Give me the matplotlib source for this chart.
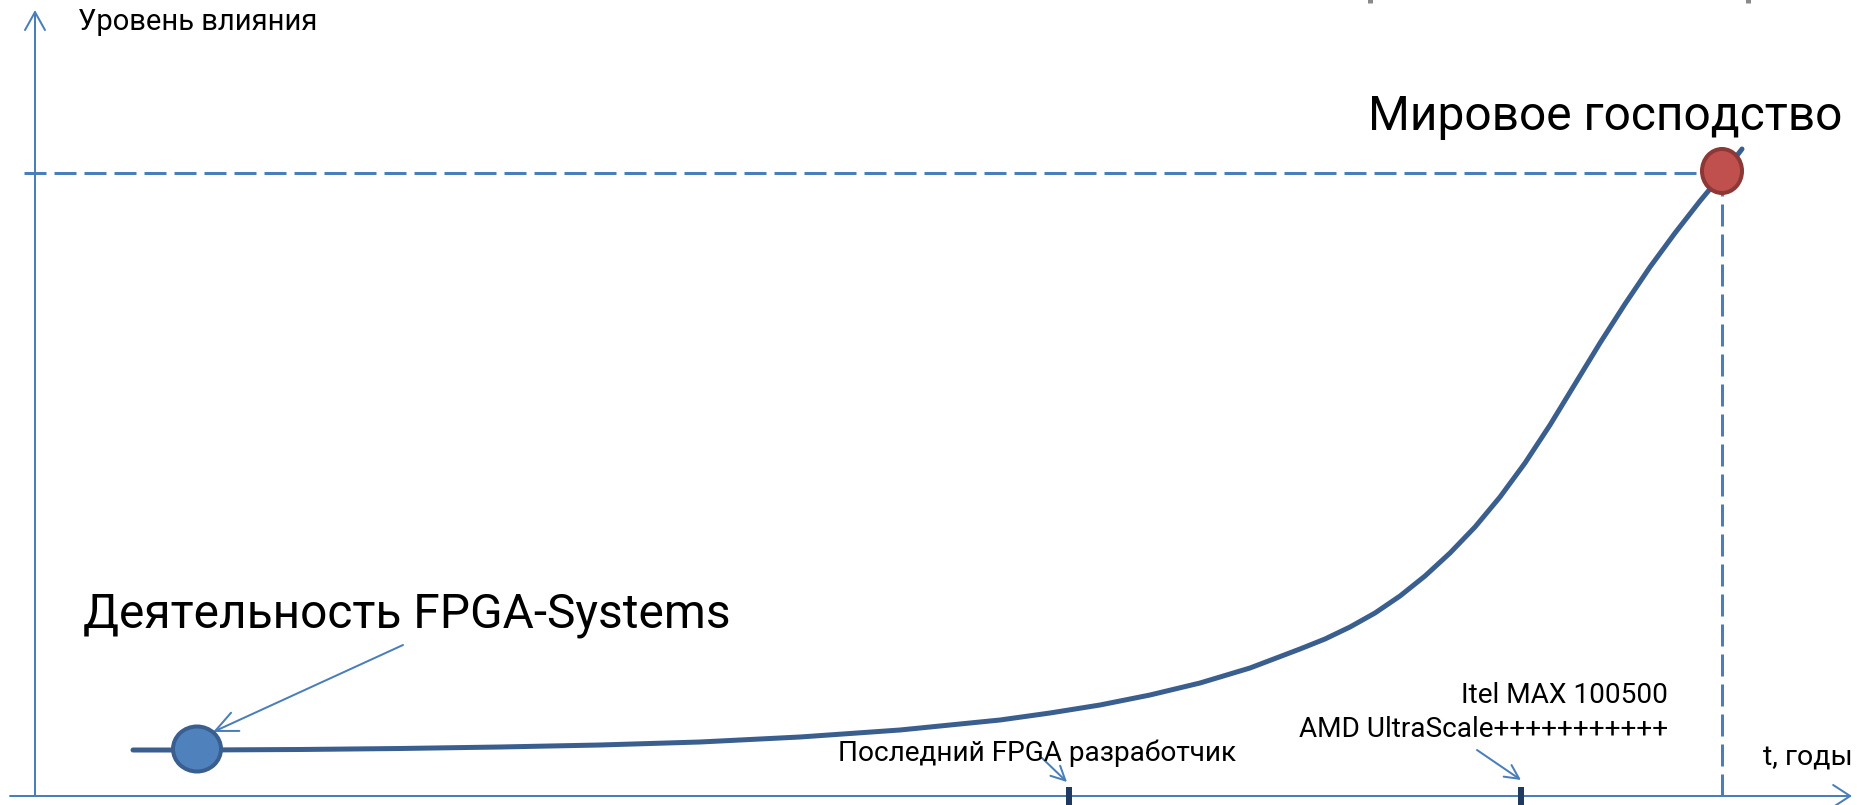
import matplotlib
matplotlib.use("Agg")
import matplotlib.pyplot as plt
from matplotlib.patches import Ellipse, FancyArrowPatch

plt.rcParams['font.family'] = ['Roboto', 'DejaVu Sans']

# кривая влияния (t - условные годы, level - уровень влияния)
curve_t = [98, 165, 265, 365, 465, 565, 665, 765, 865, 965, 1015, 1065, 1115,
           1165, 1215, 1265, 1290, 1315, 1340, 1365, 1390, 1415, 1440, 1465,
           1490, 1515, 1540, 1565, 1590, 1615, 1640, 1665, 1690, 1707]
curve_level = [46, 46, 46.5, 47.5, 49, 51, 54, 59, 66, 76, 83, 91, 101,
               113, 128, 147, 157, 169, 183, 200, 220, 243, 269, 299,
               333, 371, 412, 453, 492, 529, 563, 595, 625, 647]

start_t, start_level = 162, 47          # Деятельность FPGA-Systems
goal_t, goal_level = 1687, 625          # Мировое господство
milestones_t = [1034, 1486]             # отметки на оси времени

y_label = "Уровень влияния"
x_label = "t, годы"
start_label = "Деятельность FPGA-Systems"
goal_label = "Мировое господство"
last_dev_label = "Последний FPGA разработчик"
chip1_label = "Itel MAX 100500"
chip2_label = "AMD UltraScale+++++++++++"

axis_col = '#4A7EBB'
curve_col = '#3A5F8E'
px = 0.72  # пиксели -> пункты при dpi=100

fig = plt.figure(figsize=(18.57, 8.05), dpi=100)
ax = fig.add_axes([0, 0, 1, 1])
ax.set_xlim(-35, 1822)
ax.set_ylim(-9, 796)
ax.axis('off')


def arrow(p0, p1, hl, hw, lw=2):
    a = FancyArrowPatch(p0, p1, arrowstyle=f'->,head_length={hl*px},head_width={hw*px}',
                        mutation_scale=1, color=axis_col, lw=lw*px,
                        shrinkA=0, shrinkB=0, zorder=2)
    ax.add_patch(a)


# оси
arrow((-25, 0), (1817, 0), 17, 11)
arrow((0, 0), (0, 786), 18, 10)

# пунктир до цели
ax.plot([-11, goal_t], [goal_level - 2, goal_level - 2], color=axis_col, lw=3*px,
        dashes=(22/3, 8/3), zorder=2)
ax.plot([goal_t, goal_t], [0, goal_level], color=axis_col, lw=3*px,
        dashes=(22/3, 8/3), zorder=2)

# отметки
for m in milestones_t:
    ax.plot([m, m], [9, -12], color='#1F3A60', lw=6*px, solid_capstyle='butt',
            zorder=3, clip_on=False)

# кривая
ax.plot(curve_t, curve_level, color=curve_col, lw=5*px, solid_capstyle='round',
        solid_joinstyle='round', zorder=4)

ax.add_patch(Ellipse((start_t, start_level), 48, 45, facecolor='#4F81BD',
                     edgecolor=curve_col, lw=4*px, zorder=5))
ax.add_patch(Ellipse((goal_t, goal_level), 40, 44, facecolor='#C0504D',
                     edgecolor='#8C3836', lw=4*px, zorder=5))

# обрезанные края фигуры сверху
for g in [1335, 1713]:
    ax.plot([g, g], [793, 797], color='#8a8a8a', lw=5*px,
            solid_capstyle='butt', clip_on=True)

# подписи
ax.text(43, 774, y_label, fontsize=21, va='center', ha='left')
ax.text(1728, 31, x_label, fontsize=20.5, va='baseline', ha='left')
ax.text(48, 169, start_label, fontsize=34.5, va='baseline', ha='left')
ax.text(1333, 666, goal_label, fontsize=34.5, va='baseline', ha='left')
ax.text(803, 35, last_dev_label, fontsize=20.2, va='baseline', ha='left')
ax.text(1633, 93, chip1_label, fontsize=20.2, va='baseline', ha='right')
ax.text(1633, 59, chip2_label, fontsize=20.2, va='baseline', ha='right')

# стрелки-указатели
arrow((368, 151), (178, 64), 22, 10)
arrow((1007, 38), (1032, 14), 14, 7)
arrow((1442, 46), (1486, 16), 14, 7)

fig.savefig('out.png', dpi=100)
